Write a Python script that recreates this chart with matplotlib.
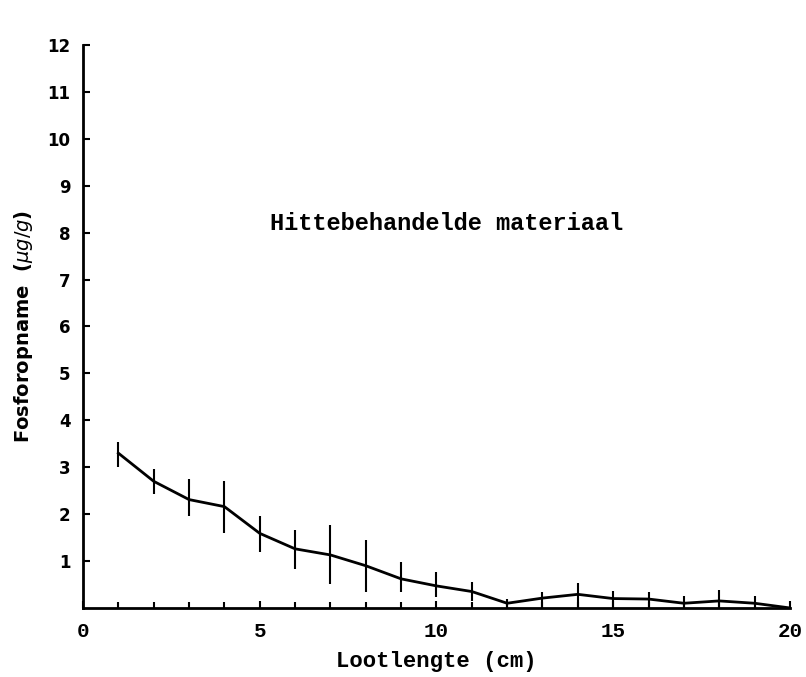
import matplotlib
matplotlib.use("Agg")
import matplotlib.pyplot as plt
from matplotlib.ticker import MultipleLocator

# lootlengte (cm) en fosforopname (ug/g)
lengte = [1, 2, 3, 4, 5, 6, 7, 8, 9, 10, 11, 12, 13, 14, 15, 16, 17, 18, 19, 20]
opname = [3.3, 2.7, 2.31, 2.16, 1.59, 1.26, 1.13, 0.9, 0.62, 0.47, 0.35, 0.1,
          0.21, 0.29, 0.2, 0.19, 0.1, 0.15, 0.1, 0.0]
fout_boven = [0.24, 0.27, 0.43, 0.54, 0.37, 0.41, 0.64, 0.54, 0.37, 0.29, 0.21, 0.09,
              0.14, 0.25, 0.17, 0.16, 0.15, 0.24, 0.15, 0.0]
fout_onder = [0.3, 0.27, 0.35, 0.56, 0.39, 0.44, 0.61, 0.57, 0.29, 0.24, 0.21, 0.08,
              0.21, 0.29, 0.2, 0.19, 0.1, 0.15, 0.1, 0.0]

MONO = "Liberation Mono"
SANS = "DejaVu Sans"

fig = plt.figure(figsize=(8.06, 6.77), dpi=100)
ax = fig.add_axes([0.103, 0.102, 0.877, 0.8315])

ax.errorbar(lengte, opname, yerr=[fout_onder, fout_boven], color="black",
            linewidth=2, elinewidth=1.5, capsize=0)

ax.set_xlim(0, 20)
ax.set_ylim(0, 12)
ax.spines["top"].set_visible(False)
ax.spines["right"].set_visible(False)
ax.spines["left"].set_linewidth(2)
ax.spines["bottom"].set_linewidth(2)

ax.xaxis.set_major_locator(MultipleLocator(5))
ax.xaxis.set_minor_locator(MultipleLocator(1))
ax.set_yticks(range(1, 13))
ax.tick_params(axis="both", which="both", direction="in", width=1.5)
ax.tick_params(axis="both", which="major", length=5)
ax.tick_params(axis="x", which="major", pad=10)
ax.tick_params(axis="y", which="major", pad=9)
ax.tick_params(axis="x", which="minor", length=4)

for lbl in ax.get_xticklabels():
    lbl.set_fontfamily(MONO)
    lbl.set_fontweight("bold")
    lbl.set_fontsize(15)
for lbl in ax.get_yticklabels():
    lbl.set_fontfamily(SANS)
    lbl.set_fontweight("bold")
    lbl.set_fontsize(12)

ax.set_xlabel("Lootlengte (cm)", fontfamily=MONO, fontweight="bold", fontsize=16, labelpad=7)
ax.set_ylabel(r"Fosforopname  ($\mu g/g$)", fontfamily=SANS, fontweight="bold", fontsize=14, labelpad=9)

ax.text(10.3, 8.2, "Hittebehandelde materiaal", fontfamily=MONO, fontweight="bold",
        fontsize=17, ha="center", va="center")

fig.savefig("out.png", dpi=100)
